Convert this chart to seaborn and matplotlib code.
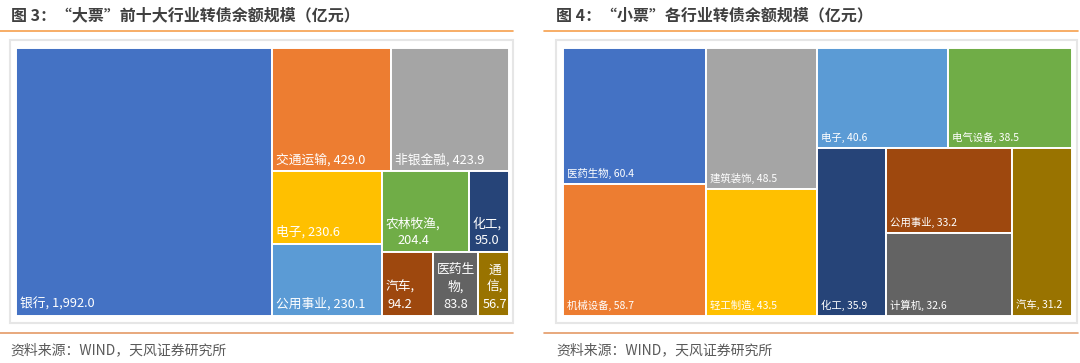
import seaborn as sns
import matplotlib.pyplot as plt
from matplotlib.lines import Line2D
from matplotlib.patches import Rectangle

sns.set_theme(style="white")
plt.rcParams['font.family'] = ['Noto Sans CJK SC', 'DejaVu Sans']

# data (亿元)
big_names = ['银行', '交通运输', '非银金融', '电子', '公用事业',
             '农林牧渔', '化工', '汽车', '医药生物', '通信']
big_values = [1992.0, 429.0, 423.9, 230.6, 230.1, 204.4, 95.0, 94.2, 83.8, 56.7]

small_names = ['医药生物', '机械设备', '建筑装饰', '轻工制造', '电子',
               '电气设备', '化工', '公用事业', '计算机', '汽车']
small_values = [60.4, 58.7, 48.5, 43.5, 40.6, 38.5, 35.9, 33.2, 32.6, 31.2]

# tiles per strip, as Excel split them
big_strips = [1, 2, 2, 2, 1, 1, 1]
small_strips = [2, 2, 2, 1, 2, 1]

office = ['#4472C4', '#ED7D31', '#A5A5A5', '#FFC000', '#5B9BD5',
          '#70AD47', '#264478', '#9E480E', '#636363', '#997300']
palette = sns.color_palette(office)

W, H = 1080, 363
fig = plt.figure(figsize=(W / 100, H / 100), dpi=100)
renderer = fig.canvas.get_renderer()


def strips_layout(values, strips, w, h):
    rects = []
    x, y = 0.0, 0.0
    rest = float(sum(values))
    i = 0
    for n in strips:
        group = values[i:i + n]
        s = sum(group)
        if w >= h:
            cw = w * s / rest
            yy = y
            for v in group:
                rh = h * v / s
                rects.append((x, yy, cw, rh))
                yy += rh
            x += cw
            w -= cw
        else:
            rh = h * s / rest
            xx = x
            for v in group:
                cw = w * v / s
                rects.append((xx, y, cw, rh))
                xx += cw
            y += rh
            h -= rh
        rest -= s
        i += n
    return rects


def text_width(s, size):
    t = fig.text(0, 0, s, fontsize=size)
    wd = t.get_window_extent(renderer).width
    t.remove()
    return wd


def wrap_label(name, val, size, room):
    full = f'{name}, {val}'
    if text_width(full, size) <= room:
        return full
    lines = []
    cur = ''
    for k, ch in enumerate(name):
        tail = ',' if k == len(name) - 1 else ''
        if cur and text_width(cur + ch + tail, size) > room:
            lines.append(cur)
            cur = ch
        else:
            cur += ch
    lines.append(cur + ',')
    lines.append(val)
    return '\n'.join(lines)


def treemap(box, names, values, strips, size):
    x0, y0, x1, y1 = box
    w, h = x1 - x0, y1 - y0
    ax = fig.add_axes([x0 / W, 1 - y1 / H, w / W, h / H])
    ax.set_xlim(0, w)
    ax.set_ylim(h, 0)
    ax.axis('off')
    rects = strips_layout(values, strips, w, h)
    xs = [r[0] for r in rects]
    ys = [r[1] for r in rects]
    ws = [r[2] for r in rects]
    hs = [r[3] for r in rects]
    ax.bar(xs, hs, width=ws, bottom=ys, align='edge', color=palette,
           edgecolor='white', linewidth=1.4, clip_on=False)
    for (rx, ry, rw, rh), nm, v in zip(rects, names, values):
        lab = wrap_label(nm, f'{v:,.1f}', size, rw - 4)
        ax.text(rx + 4, ry + rh - 5, lab, fontsize=size, color='white',
                ha='left', va='bottom', multialignment='center',
                linespacing=1.4)


treemap((16, 47.5, 509, 316), big_names, big_values, big_strips, 9.2)
treemap((563, 47.5, 1072, 316), small_names, small_values, small_strips, 7.5)

# frames, rules, titles, source
for fx0, fx1 in [(10, 513), (556, 1077)]:
    fig.add_artist(Rectangle((fx0 / W, 1 - 323 / H), (fx1 - fx0) / W, 283 / H,
                             transform=fig.transFigure, fill=False,
                             edgecolor='#E6E6E6', lw=1.5))
for lx0, lx1 in [(0, 513), (544, 1078)]:
    fig.add_artist(Line2D([lx0 / W, lx1 / W], [1 - 30.5 / H] * 2,
                          transform=fig.transFigure, color='#F6A04D', lw=1.2))
    fig.add_artist(Line2D([lx0 / W, lx1 / W], [1 - 333 / H] * 2,
                          transform=fig.transFigure, color='#E49A66', lw=1.2))

fig.text(11 / W, 1 - 15 / H, '图 3：“大票”前十大行业转债余额规模（亿元）',
         fontsize=11.5, fontweight='bold', color='#404040', va='center')
fig.text(556 / W, 1 - 15 / H, '图 4：“小票”各行业转债余额规模（亿元）',
         fontsize=11.5, fontweight='bold', color='#404040', va='center')
for sx in [10, 556]:
    fig.text(sx / W, 1 - 350 / H, '资料来源：WIND，天风证券研究所',
             fontsize=10, color='#595959', va='center')

fig.savefig('out.png', dpi=100)
